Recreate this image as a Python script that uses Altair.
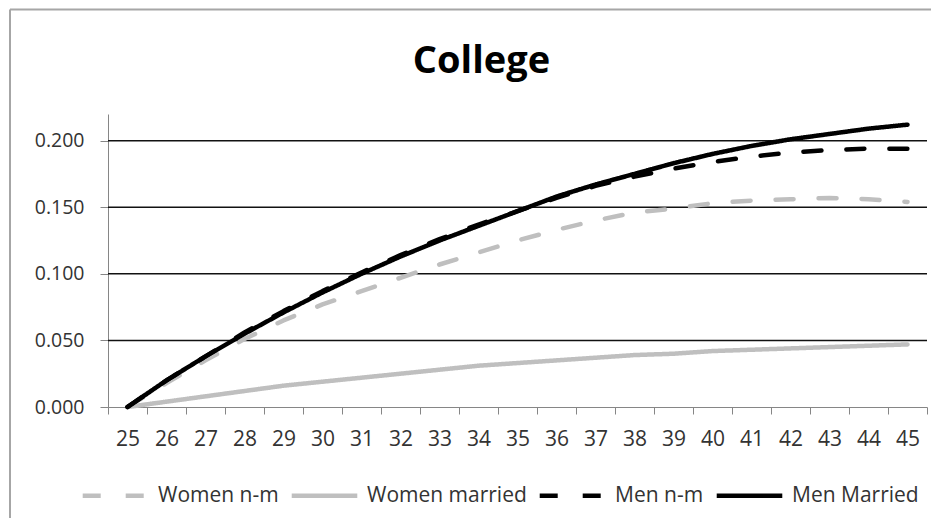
import altair as alt
import pandas as pd

ages = list(range(25, 46))
series_names = ["Women n-m", "Women married", "Men n-m", "Men Married"]
women_nm = [0.000, 0.018, 0.035, 0.051, 0.065, 0.077, 0.087, 0.097, 0.107, 0.116, 0.125,
            0.133, 0.140, 0.146, 0.149, 0.153, 0.155, 0.156, 0.157, 0.156, 0.154]
women_married = [0.000, 0.004, 0.008, 0.012, 0.016, 0.019, 0.022, 0.025, 0.028, 0.031, 0.033,
                 0.035, 0.037, 0.039, 0.040, 0.042, 0.043, 0.044, 0.045, 0.046, 0.047]
men_nm = [0.000, 0.020, 0.038, 0.056, 0.072, 0.087, 0.101, 0.114, 0.126, 0.137, 0.147,
          0.157, 0.166, 0.173, 0.179, 0.184, 0.188, 0.191, 0.193, 0.194, 0.194]
men_married = [0.000, 0.020, 0.038, 0.055, 0.071, 0.086, 0.100, 0.113, 0.125, 0.136, 0.147,
               0.158, 0.167, 0.175, 0.183, 0.190, 0.196, 0.201, 0.205, 0.209, 0.212]
grid_values = [0.05, 0.10, 0.15, 0.20]
y_ticks = [0.0, 0.05, 0.10, 0.15, 0.20]

all_series = [women_nm, women_married, men_nm, men_married]
rows = []
for name, vals in zip(series_names, all_series):
    for a, v in zip(ages, vals):
        rows.append({"age": a, "series": name, "value": v})
df = pd.DataFrame(rows)

GRAY = "#bfbfbf"
AXIS_GRAY = "#868686"
TEXT = "#333333"
FONT = "Open Sans"

x_enc = alt.X(
    "age:O",
    scale=alt.Scale(type="band", paddingInner=0, paddingOuter=0),
    bandPosition=0.5,
    axis=alt.Axis(
        title=None, labelAngle=0, tickBand="extent", tickSize=7, tickColor=AXIS_GRAY,
        domainColor=AXIS_GRAY, labelFont=FONT, labelFontSize=21, labelColor=TEXT,
        labelPadding=14, grid=False,
    ),
)
y_scale = alt.Scale(domain=[0, 0.22], nice=False)
y_enc = alt.Y(
    "value:Q",
    scale=y_scale,
    axis=alt.Axis(
        title=None, values=y_ticks, format=".3f", tickSize=8, tickColor=AXIS_GRAY,
        domainColor=AXIS_GRAY, labelFont=FONT, labelFontSize=19.5, labelColor=TEXT,
        labelPadding=16, grid=False,
    ),
)
legend_cfg = dict(
    title=None, orient="none", legendX=-28, legendY=346, direction="horizontal",
    columns=4, symbolType="stroke", symbolSize=4300, symbolStrokeWidth=4.5,
    labelFont=FONT, labelFontSize=21, labelColor=TEXT, labelOffset=7,
    labelLimit=400, columnPadding=3, padding=0,
)
color_enc = alt.Color(
    "series:N",
    scale=alt.Scale(domain=series_names, range=[GRAY, GRAY, "#000000", "#000000"]),
    legend=alt.Legend(**legend_cfg),
)
dash_enc = alt.StrokeDash(
    "series:N",
    scale=alt.Scale(domain=series_names, range=[[18, 25], [1, 0], [18, 25], [1, 0]]),
    legend=alt.Legend(**legend_cfg),
)

grid = alt.Chart(pd.DataFrame({"value": grid_values})).mark_rule(
    color="#111111", strokeWidth=1.5
).encode(y=alt.Y("value:Q", scale=y_scale))

base = alt.Chart(df)
line_layers = []
for name in series_names:
    line_layers.append(
        base.transform_filter(alt.datum.series == name)
        .mark_line(strokeWidth=4.5, strokeCap="round", strokeJoin="round")
        .encode(x=x_enc, y=y_enc, color=color_enc, strokeDash=dash_enc)
    )

frame_data = alt.Data(values=[{}])
frame_top = alt.Chart(frame_data).mark_rule(color="#a6a6a6", strokeWidth=2).encode(
    x=alt.value(-98), x2=alt.value(1200), y=alt.value(-104.5)
)
frame_left = alt.Chart(frame_data).mark_rule(color="#a6a6a6", strokeWidth=2).encode(
    x=alt.value(-98), y=alt.value(-104.5), y2=alt.value(1000)
)

chart = alt.layer(grid, *line_layers, frame_top, frame_left).properties(
    width=819,
    height=293,
    autosize=alt.AutoSizeParams(type="none"),
    padding={"left": 100, "top": 106, "right": 4, "bottom": 111},
    title=alt.TitleParams(
        "College", font=FONT, fontSize=38, fontWeight="bold", color="#000000",
        anchor="middle", frame="group", dx=-36, offset=-72,
    ),
).configure_view(stroke=None)

chart.save("out.html", embed_options={"renderer": "svg", "actions": False})
